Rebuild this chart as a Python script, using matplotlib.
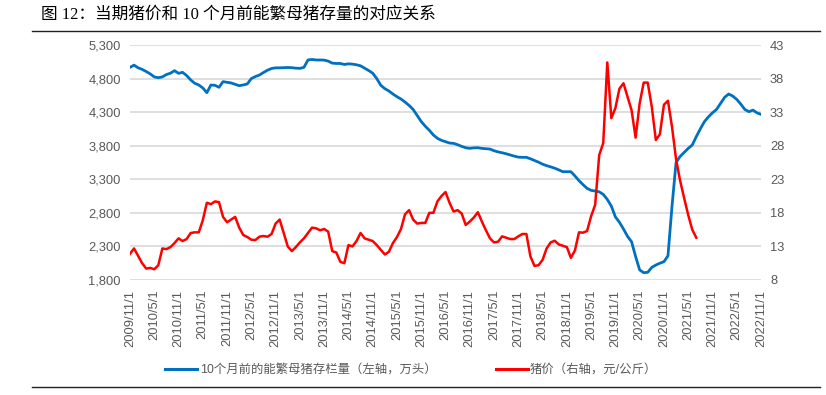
import matplotlib
matplotlib.use("Agg")
import matplotlib.pyplot as plt
from matplotlib.lines import Line2D
import numpy as np

title = "图 12：当期猪价和 10 个月前能繁母猪存量的对应关系"
sow_label = "10个月前的能繁母猪存栏量（左轴，万头）"
price_label = "猪价（右轴，元/公斤）"

# monthly, starting 2009/11
sow_stock = [
    4967, 5000, 4960, 4937, 4905, 4870, 4825, 4813, 4825, 4860,
    4880, 4918, 4878, 4893, 4845, 4780, 4730, 4705, 4660, 4590,
    4704, 4700, 4670, 4754, 4745, 4735, 4715, 4694, 4705, 4720,
    4800, 4830, 4853, 4890, 4925, 4950, 4960, 4960, 4962, 4965,
    4962, 4955, 4952, 4967, 5077, 5085, 5077, 5077, 5075, 5060,
    5030, 5025, 5025, 5010, 5020, 5015, 5005, 4990, 4955, 4920,
    4880, 4800, 4700, 4650, 4615, 4570, 4530, 4495, 4450, 4400,
    4340, 4250, 4160, 4090, 4030, 3960, 3910, 3880, 3860, 3840,
    3835, 3815, 3790, 3770, 3761, 3768, 3770, 3760, 3755, 3750,
    3725, 3708, 3695, 3680, 3662, 3645, 3630, 3627, 3627, 3605,
    3580, 3555, 3525, 3503, 3485, 3465, 3440, 3413, 3413, 3413,
    3350, 3280, 3220, 3165, 3135, 3125, 3113, 3075, 3000, 2900,
    2740, 2660, 2560, 2450, 2370, 2150, 1950, 1909, 1914, 1988,
    2023, 2050, 2073, 2160, 2900, 3550, 3640, 3700, 3760, 3810,
    3935, 4050, 4158, 4230, 4290, 4340, 4431, 4520, 4570, 4540,
    4490, 4420, 4340, 4307, 4330, 4290, 4267,
]

hog_price = [
    11.9, 12.7, 11.6, 10.5, 9.7, 9.8, 9.6, 10.2, 12.7, 12.6,
    12.9, 13.5, 14.2, 13.8, 14.1, 15.0, 15.1, 15.1, 16.9, 19.5,
    19.3, 19.7, 19.6, 17.4, 16.6, 17.0, 17.4, 15.8, 14.7, 14.4,
    14.0, 13.95, 14.45, 14.55, 14.45, 14.85, 16.4, 17.0, 15.0, 13.0,
    12.3, 12.9, 13.6, 14.2, 15.0, 15.8, 15.7, 15.4, 15.6, 15.2,
    12.3, 12.1, 10.7, 10.5, 13.2, 13.0, 13.8, 15.0, 14.2, 14.0,
    13.8, 13.2, 12.5, 11.8, 12.2, 13.5, 14.4, 15.6, 17.8, 18.4,
    17.0, 16.4, 16.5, 16.5, 18.0, 18.0, 19.7, 20.5, 21.1, 19.5,
    18.2, 18.4, 17.9, 16.2, 16.7, 17.3, 18.1, 16.7, 15.4, 14.2,
    13.6, 13.7, 14.5, 14.3, 14.1, 14.1, 14.5, 14.85, 14.85, 11.5,
    10.1, 10.2, 11.0, 12.7, 13.6, 13.85, 13.3, 13.1, 12.9, 11.3,
    12.4, 15.1, 15.05, 15.3, 17.5, 19.2, 26.6, 28.4, 40.4, 32.1,
    33.6, 36.5, 37.3, 35.3, 33.3, 29.2, 34.3, 37.4, 37.4, 33.8,
    28.85, 29.7, 34.1, 34.7, 30.8, 26.0, 22.8, 20.2, 17.7, 15.5,
    14.3,
]

tick_labels = [
    "2009/11/1", "2010/5/1", "2010/11/1", "2011/5/1", "2011/11/1",
    "2012/5/1", "2012/11/1", "2013/5/1", "2013/11/1", "2014/5/1",
    "2014/11/1", "2015/5/1", "2015/11/1", "2016/5/1", "2016/11/1",
    "2017/5/1", "2017/11/1", "2018/5/1", "2018/11/1", "2019/5/1",
    "2019/11/1", "2020/5/1", "2020/11/1", "2021/5/1", "2021/11/1",
    "2022/5/1", "2022/11/1",
]
left_ticks = [1800, 2300, 2800, 3300, 3800, 4300, 4800, 5300]
right_ticks = [8, 13, 18, 23, 28, 33, 38, 43]

plt.rcParams['font.family'] = ['Liberation Sans', 'Noto Sans CJK SC']

W, H = 826, 395
fig = plt.figure(figsize=(W / 100, H / 100), dpi=100)
ax = fig.add_axes([130 / W, 1 - 280 / H, (761 - 130) / W, (280 - 45) / H])
ax2 = ax.twinx()

blue = "#0070C0"
red = "#FF0000"
grey = "#595959"

x_sow = np.arange(len(sow_stock))
x_price = np.arange(len(hog_price))
ax.plot(x_sow, sow_stock, color=blue, lw=2.0, solid_joinstyle='round', zorder=3)
ax2.plot(x_price, hog_price, color=red, lw=1.8, solid_joinstyle='round', zorder=3)

ax.set_xlim(0, 156)
ax.set_ylim(1800, 5300)
ax2.set_ylim(8, 43)
ax.set_yticks(left_ticks)
ax.set_yticklabels([f"{v:,}" for v in left_ticks])
ax2.set_yticks(right_ticks)
ax.set_xticks(np.arange(0, 157, 6))
ax.set_xticklabels(tick_labels, rotation=90)

ax.grid(axis='y', color='#d9d9d9', lw=1.2)
ax.set_axisbelow(True)
for a in (ax, ax2):
    for s in a.spines.values():
        s.set_visible(False)
    a.tick_params(length=0, colors=grey, labelsize=9.3)
ax.tick_params(axis='y', pad=6.5)
ax2.tick_params(axis='y', pad=6.5)
ax.tick_params(axis='x', pad=7)

# legend
handles = [Line2D([], [], color=blue, lw=2.2), Line2D([], [], color=red, lw=2.2)]
fig.legend(handles, [sow_label, price_label], loc='center left', bbox_to_anchor=(165 / W, 1 - 370 / H),
           ncol=2, frameon=False, fontsize=8.9, handlelength=2.6, columnspacing=4.8,
           labelcolor=grey, handletextpad=0.2, borderaxespad=0, borderpad=0)

# title and rules
fig.text(41 / W, 1 - 15 / H, title, fontsize=12, va='center', ha='left',
         family=['Liberation Serif', 'Noto Sans CJK SC'], color='black')
fig.add_artist(Line2D([32 / W, 820 / W], [1 - 31 / H, 1 - 31 / H], color='#222222', lw=1.0))
fig.add_artist(Line2D([32 / W, 820 / W], [1 - 387 / H, 1 - 387 / H], color='#222222', lw=1.0))

fig.savefig("out.png", dpi=100)
